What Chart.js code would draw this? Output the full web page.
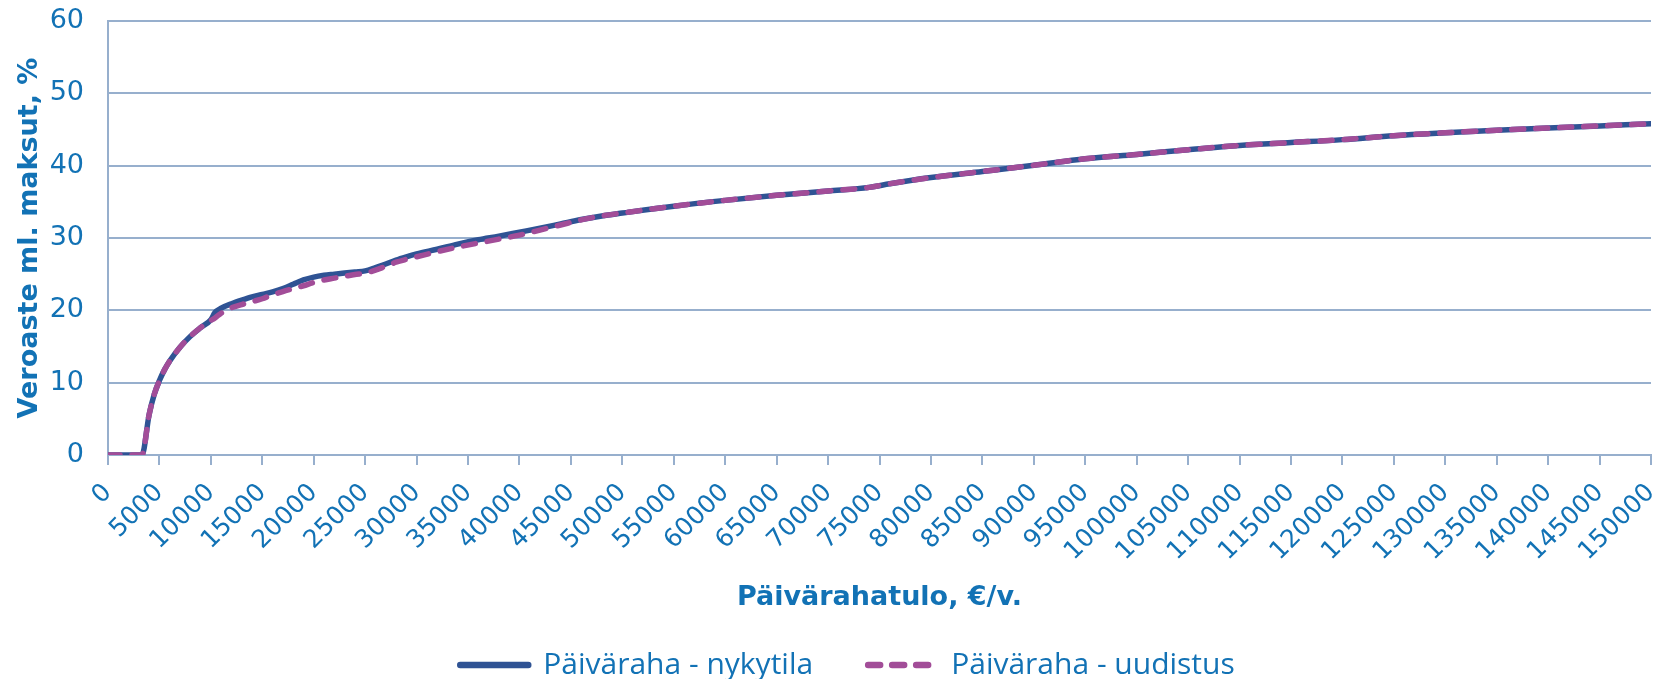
<!DOCTYPE html>
<html>
<head>
<meta charset="utf-8">
<script src="https://cdn.jsdelivr.net/npm/chart.js@4"></script>
<style>
  body { margin: 0; background: #fff; }
</style>
</head>
<body>
<canvas id="kaavio" width="1659" height="679"></canvas>
<script>
  // tulotasot, €/v.
  const tulot = [0, 1000, 2000, 3000, 3300, 4000, 4500, 5000, 5500, 6000, 7000, 8000, 9000, 10000, 10400,
    11000, 12000, 13000, 14000, 15000, 16000, 17000, 18000, 19000, 20000, 21000, 22000, 23000, 24000, 25000,
    26000, 27000, 28000, 29000, 30000, 32000, 34000, 36000, 38000, 40000, 42000, 44000, 46000, 48000, 50000,
    55000, 60000, 65000, 70000, 74000, 76000, 78000, 80000, 85000, 90000, 95000, 100000, 105000, 110000,
    115000, 120000, 125000, 130000, 135000, 140000, 145000, 150000];

  const nykytila = [0, 0, 0, 0, 0, 5.6, 8.4, 10.3, 11.8, 13.0, 14.9, 16.4, 17.6, 18.7, 19.7,
    20.3, 20.9, 21.4, 21.85, 22.2, 22.55, 23.0, 23.6, 24.2, 24.6, 24.85, 25.0, 25.15, 25.3, 25.45,
    25.9, 26.4, 26.95, 27.4, 27.8, 28.45, 29.15, 29.75, 30.25, 30.8, 31.35, 31.95, 32.55, 33.05, 33.45,
    34.4, 35.2, 35.9, 36.5, 37.0, 37.5, 37.95, 38.35, 39.2, 40.05, 40.95, 41.55, 42.2, 42.8,
    43.2, 43.6, 44.15, 44.55, 44.9, 45.2, 45.5, 45.8];

  const uudistus = [0, 0, 0, 0, 0, 5.6, 8.4, 10.3, 11.8, 13.0, 14.9, 16.4, 17.6, 18.6, 18.95,
    19.6, 20.35, 20.8, 21.2, 21.6, 22.15, 22.6, 23.0, 23.4, 23.85, 24.2, 24.45, 24.7, 24.95, 25.15,
    25.55, 26.1, 26.65, 27.05, 27.4, 28.1, 28.75, 29.3, 29.85, 30.4, 31.1, 31.8, 32.5, 33.05, 33.45,
    34.4, 35.2, 35.9, 36.5, 37.0, 37.5, 37.95, 38.35, 39.2, 40.05, 40.95, 41.55, 42.2, 42.8,
    43.2, 43.6, 44.15, 44.55, 44.9, 45.2, 45.5, 45.8];

  const sarjat = ['Päiväraha - nykytila', 'Päiväraha - uudistus'];

  const sininen = '#1272B5';
  const ruudukko = '#97AFCD';

  const pisteet = arvot => tulot.map((t, i) => ({ x: t, y: arvot[i] }));

  // selite hieman oikealle, kuten alkuperäisessä
  const selitteenSiirto = {
    id: 'selitteenSiirto',
    afterLayout(chart) {
      chart.legend.left += 22;
      chart.legend.right += 22;
    }
  };

  new Chart(document.getElementById('kaavio'), {
    type: 'line',
    data: {
      datasets: [{
        label: sarjat[0],
        data: pisteet(nykytila),
        borderColor: '#2F5394',
        backgroundColor: '#2F5394',
        borderWidth: 5.5,
        borderCapStyle: 'round',
        pointRadius: 0,
        cubicInterpolationMode: 'monotone',
        order: 2
      }, {
        label: sarjat[1],
        data: pisteet(uudistus),
        borderColor: '#A24D98',
        backgroundColor: '#A24D98',
        borderWidth: 5.5,
        borderDash: [12, 12],
        borderCapStyle: 'round',
        pointRadius: 0,
        cubicInterpolationMode: 'monotone',
        order: 1
      }]
    },
    options: {
      responsive: false,
      animation: false,
      layout: { padding: { top: 21, right: 8, left: 0, bottom: -11 } },
      plugins: {
        tooltip: { enabled: false },
        legend: {
          position: 'bottom',
          labels: {
            usePointStyle: true,
            pointStyle: 'line',
            pointStyleWidth: 68,
            color: sininen,
            font: { family: 'Open Sans', size: 30 },
            padding: 55,
            sort: (a, b) => a.datasetIndex - b.datasetIndex,
            generateLabels: chart => {
              const items = Chart.defaults.plugins.legend.labels.generateLabels(chart);
              return items.map(it => {
                const ds = chart.data.datasets[it.datasetIndex];
                it.lineDash = ds.borderDash || [];
                it.lineCap = 'round';
                it.lineWidth = 6.5;
                it.strokeStyle = ds.borderColor;
                return it;
              });
            }
          }
        }
      },
      scales: {
        x: {
          type: 'linear',
          min: 0,
          max: 150000,
          afterFit: s => { s.height = 140; s.paddingLeft = 0; s.paddingRight = 0; },
          ticks: {
            stepSize: 5000,
            autoSkip: false,
            maxRotation: 45,
            minRotation: 45,
            padding: 13,
            color: sininen,
            font: { family: 'DejaVu Sans', size: 25 },
            callback: v => String(v)
          },
          grid: { drawOnChartArea: false, drawTicks: true, tickLength: 10, color: ruudukko, lineWidth: 2 },
          border: { color: ruudukko, width: 2 },
          title: {
            display: true,
            text: 'Päivärahatulo, €/v.',
            color: sininen,
            font: { family: 'DejaVu Sans', size: 27, weight: 'bold' },
            padding: { top: 0, bottom: -19 }
          }
        },
        y: {
          min: 0,
          max: 60,
          afterFit: s => { s.width = 108; s.paddingTop = 0; s.paddingBottom = 0; },
          ticks: {
            stepSize: 10,
            padding: 24,
            color: sininen,
            font: { family: 'DejaVu Sans', size: 27 }
          },
          grid: { drawTicks: false, color: ruudukko, lineWidth: 2 },
          border: { color: ruudukko, width: 2 },
          title: {
            display: true,
            text: 'Veroaste ml. maksut, %',
            color: sininen,
            font: { family: 'DejaVu Sans', size: 27, weight: 'bold' },
            padding: { top: 14, bottom: 0 }
          }
        }
      }
    },
    plugins: [selitteenSiirto]
  });
</script>
</body>
</html>
